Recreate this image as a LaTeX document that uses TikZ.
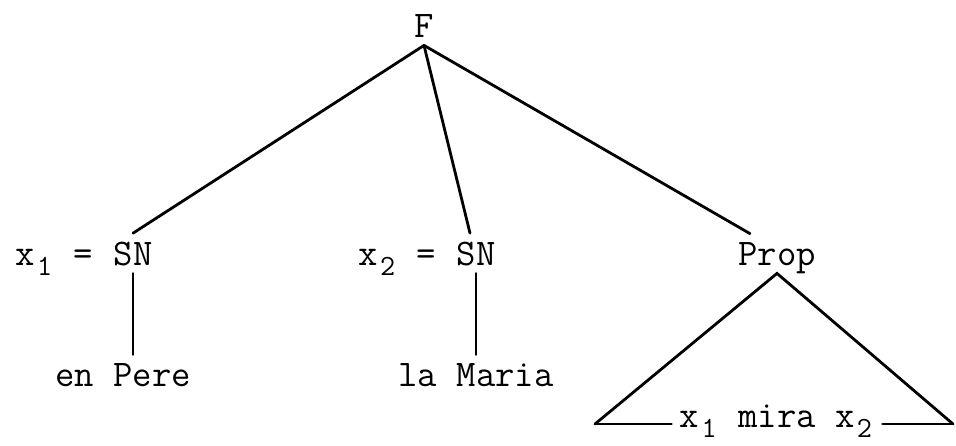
\documentclass[tikz,border=0pt]{standalone}
\usepackage{fontspec}
\usetikzlibrary{positioning}
\newcommand{\idx}[1]{\makebox[0.525em]{\raisebox{-0.28em}{\scalebox{0.78}{#1}}}}

\begin{document}
\begin{tikzpicture}[
  x=0.5pt, y=-0.5pt,
  cat/.style={font=\fontsize{18.8}{20}\selectfont\ttfamily, inner sep=4pt, text depth=0pt, anchor=base},
  var/.style={cat, anchor=base east, inner xsep=5.8pt},
  edge/.style={line width=1.4pt, line cap=round},
]
\useasboundingbox (0,0) rectangle (956,445);
\node[cat] (F)     at (424,37)  {F};
\node[cat] (sn1)   at (133,265) {SN};
\node[cat] (sn2)   at (476,265) {SN};
\node[cat] (prop)  at (777,265) {Prop};
\node[var] (x1)    at (sn1.base west) {x\idx{1} =};
\node[var] (x2)    at (sn2.base west) {x\idx{2} =};
\node[cat] (pere)  at (123,386) {en Pere};
\node[cat] (maria) at (476,386) {la Maria};
\node[cat] (mira)  at (777,427) {x\idx{1} mira x\idx{2}};
\coordinate (bl) at (595,424);
\coordinate (br) at (953,424);

\draw[edge] (F.south) -- (sn1.north);
\draw[edge] (F.south) -- ([xshift=-3pt]sn2.north);
\draw[edge] (F.south) -- ([xshift=-13.5pt]prop.north);
\draw[edge] (sn1.south) -- (sn1.south |- pere.north);
\draw[edge] (sn2.south) -- (sn2.south |- maria.north);
% triangle under Prop
\draw[edge] (bl) -- (prop.south) -- (br);
\draw[edge] (bl) -- (bl -| mira.west);
\draw[edge] (br) -- (br -| mira.east);
\end{tikzpicture}
\end{document}
